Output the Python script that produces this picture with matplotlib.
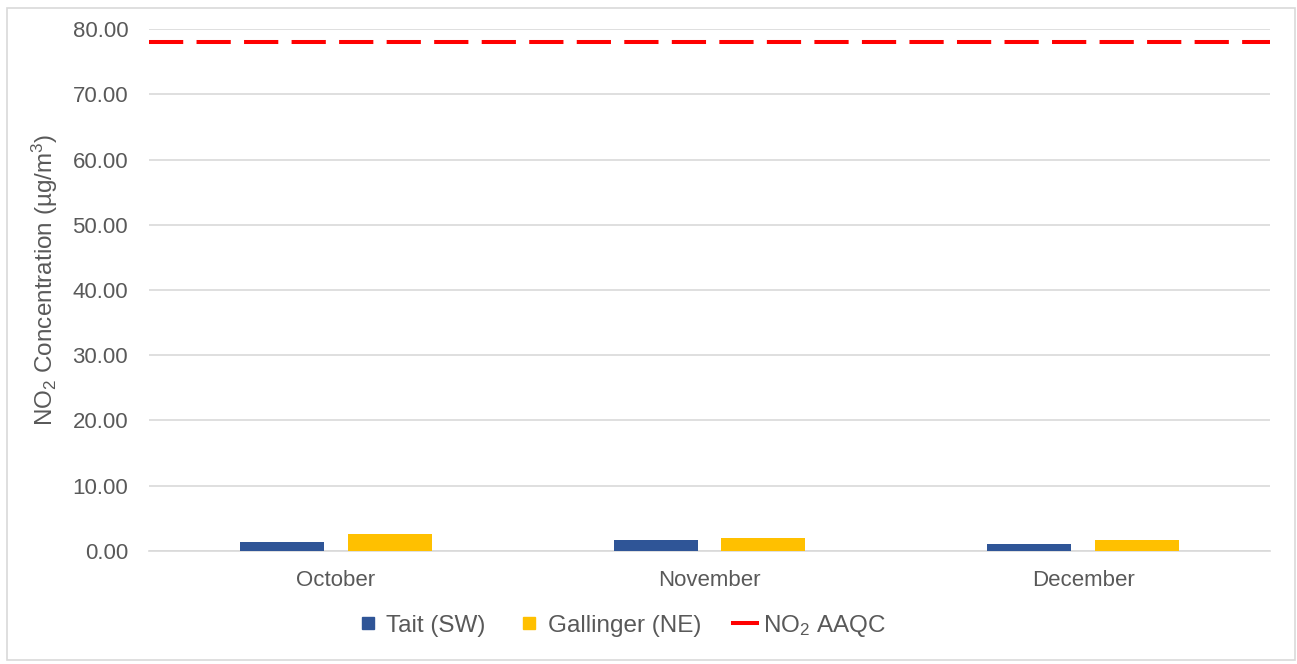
import matplotlib

matplotlib.use("Agg")

import matplotlib.pyplot as plt
import numpy as np
from matplotlib.lines import Line2D
from matplotlib.patches import Rectangle

plt.rcParams["font.family"] = ["Liberation Sans", "DejaVu Sans"]
plt.rcParams["mathtext.fontset"] = "custom"
plt.rcParams["mathtext.rm"] = "Liberation Sans"
plt.rcParams["mathtext.it"] = "Liberation Sans:italic"
plt.rcParams["mathtext.default"] = "rm"

months = ["October", "November", "December"]
tait_sw = [1.30, 1.65, 0.98]
gallinger_ne = [2.56, 1.90, 1.65]
no2_aaqc = 78.0
y_ticks = [0, 10, 20, 30, 40, 50, 60, 70, 80]

TEXT = "#595959"
GRID = "#d9d9d9"

fig = plt.figure(figsize=(12.97, 6.64), dpi=100)
# thin frame around the whole chart
fig.patches.append(
    Rectangle((7 / 1297, 4 / 664), 1288 / 1297, 652 / 664, transform=fig.transFigure,
              fill=False, edgecolor=GRID, linewidth=1.2)
)

ax = fig.add_axes([149 / 1297, 1 - 550.7 / 664, 1121 / 1297, 521.4 / 664])

x = np.arange(len(months))
width = 0.225
offset = 0.144
ax.bar(x - offset, tait_sw, width, color="#2F5597", zorder=3)
ax.bar(x + offset, gallinger_ne, width, color="#FFC000", zorder=3)
ax.axhline(no2_aaqc, color="#FF0000", linewidth=2.9, dashes=(8.5, 3.3), zorder=4)

ax.set_xlim(-0.5, len(months) - 0.5)
ax.set_ylim(0, 80)
ax.set_yticks(y_ticks)
ax.set_yticklabels([f"{v:.2f}" for v in y_ticks])
ax.set_xticks(x)
ax.set_xticklabels(months)
ax.tick_params(axis="both", length=0, labelsize=16, labelcolor=TEXT)
ax.tick_params(axis="y", pad=15)
ax.tick_params(axis="x", pad=14)

ax.yaxis.grid(True, color=GRID, linewidth=1.2, zorder=0)
for side in ["top", "right", "left"]:
    ax.spines[side].set_visible(False)
ax.spines["bottom"].set_color(GRID)
ax.spines["bottom"].set_linewidth(1.2)

fig.text(45 / 1297, 1 - 280 / 664, "NO$_2$ Concentration (µg/m$^3$)", rotation=90,
         ha="center", va="center", fontsize=17.5, color=TEXT)

handles = [
    Line2D([], [], linestyle="none", marker="s", markersize=9, color="#2F5597"),
    Line2D([], [], linestyle="none", marker="s", markersize=9, color="#FFC000"),
    Line2D([], [], color="#FF0000", linewidth=2.9),
]
labels = ["Tait (SW)", "Gallinger (NE)", "NO$_2$ AAQC"]
fig.legend(handles, labels, loc="center", bbox_to_anchor=(621 / 1297, 1 - 626 / 664),
           ncol=3, frameon=False, fontsize=17.5, handlelength=1.0, handletextpad=0.25,
           columnspacing=1.3, labelcolor=TEXT)

fig.savefig("out.png", dpi=100)
